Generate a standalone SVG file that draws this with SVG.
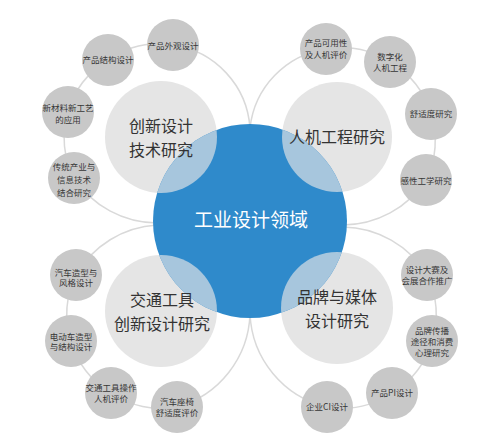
<svg xmlns="http://www.w3.org/2000/svg" width="500" height="445" viewBox="0 0 500 445">
<defs>
<style>
.ring{fill:none;stroke:#d9d9d9;stroke-width:1.5}
.sm{fill:#c8c8c8}
.quad{fill:#e5e5e5}
.ov{fill:#a7c6dd}
.st{font-family:"Noto Sans CJK SC","Noto Sans",sans-serif;font-size:8.5px;fill:#363636;text-anchor:middle}
.qt{font-family:"Noto Sans CJK SC","Noto Sans",sans-serif;font-size:16px;fill:#333;text-anchor:middle}
.ct{font-family:"Noto Sans CJK SC","Noto Sans",sans-serif;font-size:19px;fill:#fff;text-anchor:middle}
</style>
<clipPath id="blueclip"><circle cx="250" cy="221" r="97"/></clipPath>
</defs>
<rect width="500" height="445" fill="#fff"/>
<g id="connectors">
<path class="ring" d="M250,128 A90,90 0 0,0 173,45 A90,90 0 0,0 108,60 A90,90 0 0,0 68,112 A90,90 0 0,0 74,178 A100,100 0 0,0 157,223"/>
<path class="ring" d="M250,128 A90,90 0 0,1 326,49 A90,90 0 0,1 390,62 A90,90 0 0,1 431,114 A90,90 0 0,1 426,180 A100,100 0 0,1 343,225"/>
<path class="ring" d="M157,225 A100,100 0 0,0 76,275 A90,90 0 0,0 71,341 A90,90 0 0,0 111,393 A90,90 0 0,0 177,407 A100,100 0 0,0 250,314"/>
<path class="ring" d="M343,227 A100,100 0 0,1 427,275 A90,90 0 0,1 432,341 A90,90 0 0,1 392,393 A90,90 0 0,1 327,407 A100,100 0 0,1 250,314"/>
</g>
<g id="quadrants-bg">
<circle class="quad" cx="161" cy="137" r="56"/>
<circle class="quad" cx="337" cy="137" r="55"/>
<circle class="quad" cx="161" cy="311" r="56"/>
<circle class="quad" cx="337" cy="308" r="56"/>
</g>
<g id="center">
<circle cx="250" cy="221" r="97" fill="#2f8acb"/>
<g clip-path="url(#blueclip)">
<circle class="ov" cx="161" cy="137" r="56"/>
<circle class="ov" cx="337" cy="137" r="55"/>
<circle class="ov" cx="161" cy="311" r="56"/>
<circle class="ov" cx="337" cy="308" r="56"/>
</g>
<text class="ct" x="251" y="227">工业设计领域</text>
</g>
<g id="q-tl"><text class="qt" x="161" y="132">创新设计<tspan x="161" dy="24">技术研究</tspan></text></g>
<g id="q-tr"><text class="qt" x="337" y="143">人机工程研究</text></g>
<g id="q-bl"><text class="qt" x="162" y="306">交通工具<tspan x="162" dy="24">创新设计研究</tspan></text></g>
<g id="q-br"><text class="qt" x="337" y="302.5">品牌与媒体<tspan x="337" dy="24">设计研究</tspan></text></g>

<g id="n1"><circle class="sm" cx="173" cy="45" r="26"/><text class="st" x="173" y="49">产品外观设计</text></g>
<g id="n2"><circle class="sm" cx="108" cy="60" r="26"/><text class="st" x="108" y="63">产品结构设计</text></g>
<g id="n3"><circle class="sm" cx="68" cy="112" r="26"/><text class="st" x="68" y="111">新材料新工艺<tspan x="68" dy="12">的应用</tspan></text></g>
<g id="n4"><circle class="sm" cx="74" cy="178" r="26"/><text class="st" x="74" y="170">传统产业与<tspan x="74" dy="13">信息技术</tspan><tspan x="74" dy="13">结合研究</tspan></text></g>

<g id="n5"><circle class="sm" cx="326" cy="49" r="26"/><text class="st" x="326" y="46">产品可用性<tspan x="326" dy="12">及人机评价</tspan></text></g>
<g id="n6"><circle class="sm" cx="390" cy="62" r="26"/><text class="st" x="390" y="60">数字化<tspan x="390" dy="11">人机工程</tspan></text></g>
<g id="n7"><circle class="sm" cx="431" cy="114" r="26"/><text class="st" x="431" y="117">舒适度研究</text></g>
<g id="n8"><circle class="sm" cx="426" cy="180" r="26"/><text class="st" x="426" y="184">感性工学研究</text></g>

<g id="n9"><circle class="sm" cx="76" cy="275" r="26"/><text class="st" x="76" y="275.5">汽车造型与<tspan x="76" dy="10.5">风格设计</tspan></text></g>
<g id="n10"><circle class="sm" cx="71" cy="341" r="26"/><text class="st" x="71" y="339.5">电动车造型<tspan x="71" dy="10.5">与结构设计</tspan></text></g>
<g id="n11"><circle class="sm" cx="111" cy="393" r="26"/><text class="st" x="111" y="391">交通工具操作<tspan x="111" dy="11">人机评价</tspan></text></g>
<g id="n12"><circle class="sm" cx="177" cy="407" r="26"/><text class="st" x="177" y="404.5">汽车座椅<tspan x="177" dy="11">舒适度评价</tspan></text></g>

<g id="n13"><circle class="sm" cx="427" cy="275" r="26"/><text class="st" x="427" y="273">设计大赛及<tspan x="427" dy="11">会展合作推广</tspan></text></g>
<g id="n14"><circle class="sm" cx="432" cy="341" r="26"/><text class="st" x="432" y="334">品牌传播<tspan x="432" dy="11">途径和消费</tspan><tspan x="432" dy="10.5">心理研究</tspan></text></g>
<g id="n15"><circle class="sm" cx="392" cy="393" r="26"/><text class="st" x="392" y="396">产品PI设计</text></g>
<g id="n16"><circle class="sm" cx="327" cy="407" r="26"/><text class="st" x="327" y="410">企业CI设计</text></g>
</svg>
